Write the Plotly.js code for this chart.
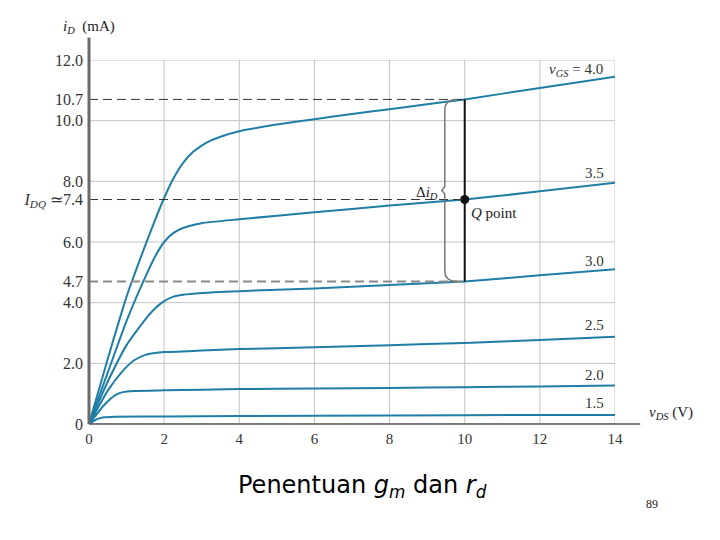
<!DOCTYPE html>
<html>
<head>
<meta charset="utf-8">
<script src="https://cdn.plot.ly/plotly-3.0.1.min.js"></script>
<style>
  body { margin: 0; background: #fff; }
  #gd { width: 720px; height: 540px; }
</style>
</head>
<body>
<div id="gd"></div>
<script>
// drain characteristics (vDS in V, iD in mA)
const vgsLabels = ['1.5', '2.0', '2.5', '3.0', '3.5', '4.0'];

const vds15 = [0, 0.2, 0.4, 0.7, 2, 6, 10, 14];
const id15  = [0, 0.15, 0.22, 0.24, 0.25, 0.27, 0.29, 0.30];

const vds20 = [0, 0.4, 0.7, 0.9, 1.2, 2, 4, 6, 8, 10, 12, 14];
const id20  = [0, 0.62, 0.95, 1.05, 1.09, 1.11, 1.15, 1.17, 1.19, 1.21, 1.24, 1.27];

const vds25 = [0, 0.5, 0.9, 1.2, 1.5, 1.75, 2, 3, 4, 6, 8, 10, 12, 14];
const id25  = [0, 1.1, 1.75, 2.1, 2.28, 2.34, 2.37, 2.42, 2.47, 2.53, 2.6, 2.67, 2.77, 2.88];

const vds30 = [0, 0.5, 1.0, 1.5, 1.75, 2.0, 2.25, 2.5, 3, 4, 6, 8, 10, 12, 14];
const id30  = [0, 1.4, 2.6, 3.45, 3.8, 4.05, 4.2, 4.26, 4.32, 4.38, 4.47, 4.58, 4.7, 4.9, 5.1];

const vds35 = [0, 0.5, 1.0, 1.5, 1.75, 2.0, 2.25, 2.5, 3, 4, 6, 8, 10, 12, 14];
const id35  = [0, 1.7, 3.4, 4.85, 5.5, 6.0, 6.3, 6.46, 6.62, 6.75, 6.98, 7.2, 7.4, 7.67, 7.95];

const vds40 = [0, 0.5, 1.0, 1.5, 1.75, 2.0, 2.25, 2.5, 2.75, 3.0, 3.25, 3.5, 4, 5, 6, 7, 8, 9, 10, 12, 14];
const id40  = [0, 2.15, 4.2, 5.9, 6.7, 7.45, 8.1, 8.6, 8.95, 9.18, 9.35, 9.47, 9.65, 9.87, 10.05, 10.22, 10.38, 10.54, 10.7, 11.08, 11.45];

const curvesX = [vds15, vds20, vds25, vds30, vds35, vds40];
const curvesY = [id15, id20, id25, id30, id35, id40];

// label position of each curve name
const labelX = [13.45, 13.45, 13.45, 13.45, 13.45, 12.95];
const labelY = [0.69, 1.62, 3.27, 5.38, 8.28, 11.68];

// ticks and grid
const xTicks = [0, 2, 4, 6, 8, 10, 12, 14];
const yGrid = [0, 2, 4, 6, 8, 10, 12];
const yTicks = [0, 2, 4, 4.7, 6, 7.4, 8, 10, 10.7, 12];
const yTickText = ['0', '2.0', '4.0', '4.7', '6.0', '<i>I<sub>DQ</sub></i> ≃7.4', '8.0', '10.0', '10.7', '12.0'];

// Q point and the change in iD
const qV = 10;
const qI = 7.4;
const iLow = 4.7;
const iHigh = 10.7;

const curveColor = '#1f7ea6';
const serif = 'Liberation Serif, Times New Roman, serif';

const traces = curvesX.map((xs, k) => ({
    x: xs,
    y: curvesY[k],
    type: 'scatter',
    mode: 'lines',
    line: { color: curveColor, width: 2, shape: 'spline', smoothing: 0.5 },
    hoverinfo: 'skip',
    showlegend: false,
}));

traces.push({
    x: [qV],
    y: [qI],
    type: 'scatter',
    mode: 'markers',
    marker: { color: '#111', size: 9 },
    showlegend: false,
});

const shapes = [];

// grid lines
yGrid.forEach((v) => shapes.push({
    type: 'line', xref: 'x', yref: 'y', x0: 0, x1: 14, y0: v, y1: v,
    line: { color: '#c4c4c4', width: 1 }, layer: 'below',
}));
xTicks.forEach((v) => shapes.push({
    type: 'line', xref: 'x', yref: 'y', x0: v, x1: v, y0: 0, y1: 12,
    line: { color: '#c4c4c4', width: 1 }, layer: 'below',
}));

// dashed projections to the axis
shapes.push({ type: 'line', xref: 'x', yref: 'y', x0: 0, x1: qV, y0: iHigh, y1: iHigh,
    line: { color: '#333', width: 1, dash: '9px,5px' } });
shapes.push({ type: 'line', xref: 'x', yref: 'y', x0: 0, x1: qV, y0: qI, y1: qI,
    line: { color: '#333', width: 1, dash: '9px,5px' } });
shapes.push({ type: 'line', xref: 'x', yref: 'y', x0: 0, x1: qV, y0: iLow, y1: iLow,
    line: { color: '#8a8a8a', width: 2, dash: '9px,5px' } });

// vertical line through Q
shapes.push({ type: 'line', xref: 'x', yref: 'y', x0: qV, x1: qV, y0: iLow, y1: iHigh,
    line: { color: '#111', width: 2 } });

// curly brace for delta iD
const bx = qV - 0.53;
const bmid = (iLow + iHigh) / 2;
const braceD = 'M ' + (qV - 0.2) + ',' + iHigh +
    ' Q ' + bx + ',' + iHigh + ' ' + bx + ',' + (iHigh - 0.35) +
    ' L ' + bx + ',' + (bmid + 0.12) +
    ' L ' + (bx - 0.08) + ',' + bmid +
    ' L ' + bx + ',' + (bmid - 0.12) +
    ' L ' + bx + ',' + (iLow + 0.35) +
    ' Q ' + bx + ',' + iLow + ' ' + (qV - 0.2) + ',' + iLow;
shapes.push({ type: 'path', xref: 'x', yref: 'y', path: braceD,
    line: { color: '#777', width: 1.5 } });

// axis lines, extended past the plot area
shapes.push({ type: 'line', xref: 'paper', yref: 'paper', x0: 0, x1: 0, y0: 0, y1: 1.062,
    line: { color: '#6a6a6a', width: 3 } });
shapes.push({ type: 'line', xref: 'paper', yref: 'paper', x0: 0, x1: 1.048, y0: 0, y1: 0,
    line: { color: '#555', width: 1.5 } });

const annotations = vgsLabels.map((lab, k) => ({
    x: labelX[k],
    y: labelY[k],
    xref: 'x', yref: 'y',
    text: k === 5 ? '<i>v<sub>GS</sub></i> = ' + lab : lab,
    showarrow: false,
    font: { family: serif, size: 15, color: '#333' },
}));

annotations.push(
    { x: qV + 0.12, y: qI - 0.12, xref: 'x', yref: 'y', xanchor: 'left', yanchor: 'top',
      text: '<i>Q</i> point', showarrow: false, font: { family: serif, size: 15, color: '#222' } },
    { x: bx - 0.12, y: bmid - 0.1, xref: 'x', yref: 'y', xanchor: 'right',
      text: 'Δ<i>i<sub>D</sub></i>', showarrow: false, font: { family: serif, size: 15, color: '#222' } },
    { x: 0, y: 1.09, xref: 'paper', yref: 'paper', xanchor: 'center', yanchor: 'middle',
      text: '<i>i<sub>D</sub></i>  (mA)', showarrow: false, font: { family: serif, size: 15, color: '#222' } },
    { x: 1.06, y: 0, xref: 'paper', yref: 'paper', xanchor: 'left',
      text: '<i>v<sub>DS</sub></i> (V)', showarrow: false, font: { family: serif, size: 15, color: '#222' } },
    { x: 0.52, y: -0.172, xref: 'paper', yref: 'paper', xanchor: 'center', yanchor: 'middle',
      text: 'Penentuan <i>g<sub>m</sub></i> dan <i>r<sub>d</sub></i>', showarrow: false,
      font: { family: 'DejaVu Sans, Verdana, sans-serif', size: 24, color: '#000' } },
    { x: 1.07, y: -0.22, xref: 'paper', yref: 'paper', xanchor: 'center', yanchor: 'middle',
      text: '89', showarrow: false, font: { family: serif, size: 12, color: '#222' } }
);

const layout = {
    width: 720,
    height: 540,
    margin: { l: 89, r: 105, t: 60, b: 116 },
    paper_bgcolor: '#fff',
    plot_bgcolor: '#fff',
    font: { family: serif, size: 14, color: '#333' },
    xaxis: {
        range: [0, 14],
        tickvals: xTicks,
        ticktext: xTicks.map(String),
        showgrid: false,
        zeroline: false,
        showline: false,
        ticks: '',
        ticklabelstandoff: 4,
        tickfont: { family: serif, size: 15, color: '#333' },
    },
    yaxis: {
        range: [0, 12],
        tickvals: yTicks,
        ticktext: yTickText,
        showgrid: false,
        zeroline: false,
        showline: false,
        ticks: '',
        ticklabelstandoff: 5,
        tickfont: { family: serif, size: 16, color: '#333' },
    },
    shapes: shapes,
    annotations: annotations,
    showlegend: false,
};

Plotly.newPlot('gd', traces, layout, { displayModeBar: false, staticPlot: true });
</script>
</body>
</html>
